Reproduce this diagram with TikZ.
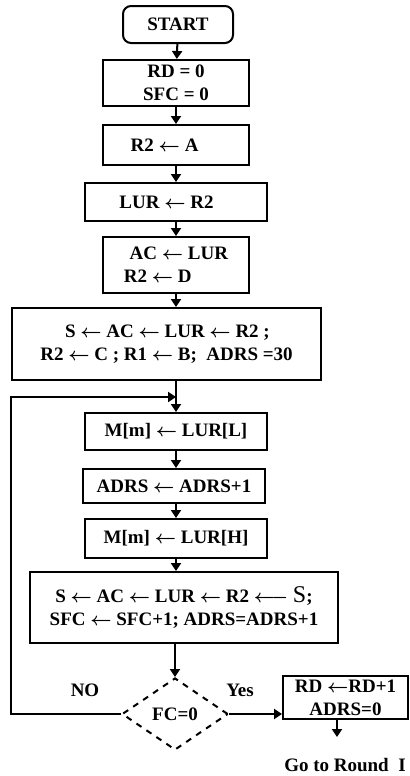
\documentclass[tikz,border=0pt]{standalone}
\usepackage{fontspec}
\setmainfont{Liberation Serif}
\usetikzlibrary{arrows.meta,positioning,calc,shapes.geometric}
\tikzset{
  block/.style    = {draw, line width=1pt, rectangle, inner sep=2pt, align=center},
  termnode/.style = {draw, line width=1pt, rectangle, rounded corners=4pt, align=center},
  decide/.style   = {draw, line width=1pt, dashed, diamond, inner sep=0pt},
  sig/.style      = {-{Triangle[length=4pt,width=5pt]}, line width=1pt},
}
\newcommand{\la}{\ensuremath{\leftarrow}}

\begin{document}
\begin{tikzpicture}[x=0.5pt,y=-0.5pt,font=\fontsize{9.5}{11.5}\selectfont\bfseries\boldmath]
\useasboundingbox (0,0) rectangle (410,776);
\node[termnode,minimum width=55pt,minimum height=18.5pt] (start) at (178,24.5) {START};
\node[block,minimum width=73pt,minimum height=23pt] (init) at (176,83) {RD = 0\\SFC = 0};
\node[block,minimum width=73pt,minimum height=20pt] (ldA) at (176,145) {R2 \la{} A\hspace{1.2em}};
\node[block,minimum width=91pt,minimum height=19pt] (ldLUR) at (176,202) {LUR \la{} R2\hspace{1em}};
\node[block,minimum width=73pt,minimum height=28pt,align=left] (ldAC) at (176,265) {\hspace{0.3em}AC \la{} LUR\\R2 \la{} D};
\node[block,minimum width=154.5pt,minimum height=36pt,align=left] (setup) at (166.5,344)
  {\hspace{1.3em}S \la{} AC \la{} LUR \la{} R2 ;\\R2 \la{} C ; R1 \la{} B;\ \ ADRS =30};
\node[block,minimum width=91pt,minimum height=18.5pt] (wrL) at (176,431.5) {M[m] \la{} LUR[L]};
\node[block,minimum width=91pt,minimum height=17pt] (incA) at (174,486) {ADRS \la{} ADRS+1};
\node[block,minimum width=91pt,minimum height=19.5pt] (wrH) at (176,538.5) {M[m] \la{} LUR[H]};
\node[block,minimum width=154pt,minimum height=35.5pt] (shift) at (184,607.5)
  {S \la{} AC \la{} LUR \la{} R2 $\longleftarrow$ {\large\mdseries S};\\SFC \la{} SFC+1; ADRS=ADRS+1};
\node[decide,minimum width=53pt,minimum height=36pt] (fc) at (175,714) {FC=0};
\node[block,minimum width=62.5pt,minimum height=19.5pt] (nextrd) at (345.5,697.5) {RD \la{}RD+1\\ADRS=0};
\node (goto) at (345,765) {Go to Round\ \ I};
\node (no) at (85,690) {NO};
\node (yes) at (240,690) {Yes};
\coordinate (loopin) at (176,397);
\coordinate (gotoend) at (337,737);
% main flow
\draw[sig] (start) -- (init);
\draw[sig] (init) -- (ldA);
\draw[sig] (ldA) -- (ldLUR);
\draw[sig] (ldLUR) -- (ldAC);
\draw[sig] (ldAC) -- (ldAC |- setup.north);
\draw[sig] (wrL |- setup.south) -- (wrL);
\draw[sig] (wrL) -- (incA.north -| wrL);
\draw[sig] (incA.south -| wrL) -- (wrH);
\draw[sig] (wrH) -- (wrH |- shift.north);
\draw[sig] (fc |- shift.south) -- (fc);
% loop back and exit
\draw[sig] (fc.west) -- ++(-110,0) |- (loopin);
\draw[sig] (fc.east) -- (fc.east -| nextrd.west);
\draw[sig] (nextrd.south -| gotoend) -- (gotoend);
\end{tikzpicture}
\end{document}
